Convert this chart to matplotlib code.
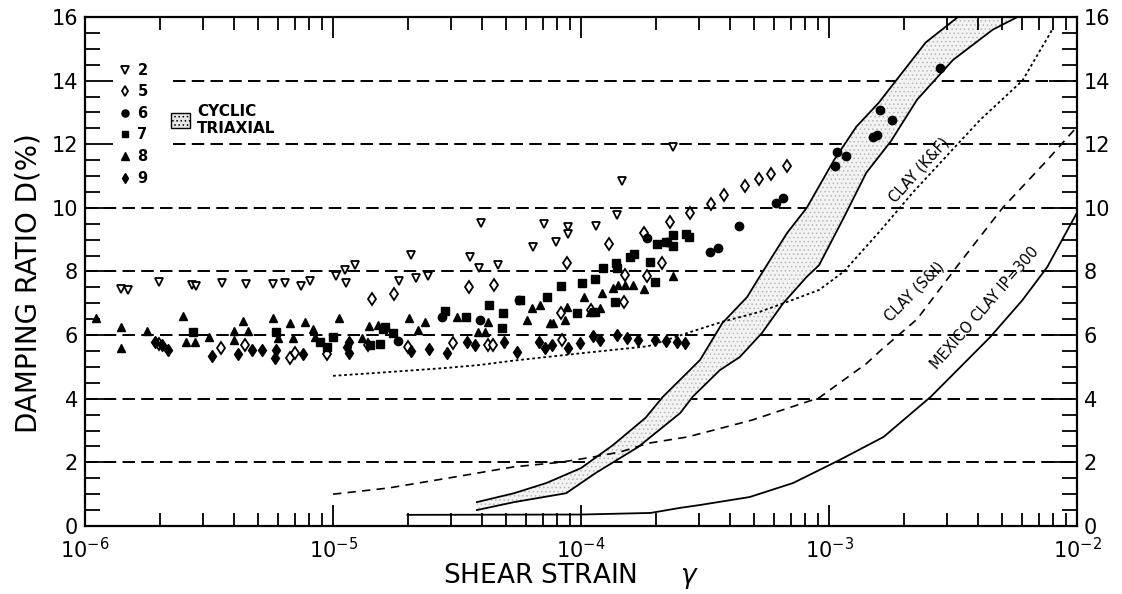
"""Damping ratio vs shear strain: test data, cyclic triaxial band and clay curves."""

import numpy as np
import matplotlib
matplotlib.use("Agg")
import matplotlib.pyplot as plt
import matplotlib.patches as mpatches
from matplotlib.ticker import FixedLocator, MultipleLocator, NullFormatter, LogLocator

plt.rcParams["font.family"] = ["DejaVu Sans"]
plt.rcParams["lines.scale_dashes"] = False
plt.rcParams["hatch.linewidth"] = 0.6

# ── data (strain given as log10) ───────────────────────────────────
s2_log = [-5.855, -5.827, -5.702, -5.569, -5.552, -5.448, -5.351, -5.242, -5.194, -5.129,
          -5.093, -4.988, -4.952, -4.948, -4.911, -4.734, -4.685, -4.665, -4.617, -4.448,
          -4.403, -4.411, -4.335, -4.194, -4.149, -4.101, -4.052, -4.052, -3.940, -3.855,
          -3.835, -3.629]
s2_D = [7.45, 7.42, 7.67, 7.58, 7.55, 7.64, 7.61, 7.61, 7.64, 7.55,
        7.70, 7.86, 8.05, 7.64, 8.20, 7.70, 8.52, 7.80, 7.86, 8.46,
        9.53, 8.11, 8.20, 8.77, 9.50, 8.93, 9.40, 9.18, 9.43, 9.78,
        10.85, 11.90]

s5_log = [-5.700, -5.450, -5.355, -5.173, -5.153, -5.024, -4.859, -4.843, -4.754, -4.452,
          -4.350, -4.698, -4.516, -4.375, -4.355, -4.056, -3.887, -3.746, -3.641, -3.560,
          -3.673, -3.823, -3.734, -3.827, -3.960, -4.080, -4.077, -3.476, -3.423, -3.339,
          -3.282, -3.234, -3.169]
s5_D = [5.72, 5.60, 5.69, 5.28, 5.44, 5.41, 5.69, 7.14, 7.30, 7.52,
        7.58, 5.63, 5.75, 5.69, 5.69, 8.27, 8.87, 9.21, 9.56, 9.84,
        8.27, 7.89, 7.86, 7.04, 6.79, 6.70, 5.85, 10.13, 10.41, 10.69,
        10.91, 11.07, 11.32]

s6_log = [-3.480, -3.448, -3.363, -3.214, -3.185, -2.968, -2.931, -2.976, -2.823, -2.806,
          -2.794, -2.746, -2.552, -4.560, -4.407, -4.250, -3.734, -3.653, -4.740]
s6_D = [8.62, 8.74, 9.43, 10.16, 10.31, 11.76, 11.64, 11.32, 12.23, 12.30,
        13.08, 12.77, 14.40, 6.57, 6.48, 7.11, 9.06, 8.93, 5.80]

s7_log = [-3.577, -3.565, -3.629, -3.657, -3.694, -3.629, -3.722, -3.786, -3.802, -3.859,
          -3.855, -3.911, -3.944, -3.996, -4.081, -3.702, -3.863, -3.944, -4.016, -4.137,
          -4.246, -4.315, -4.371, -4.464, -4.548, -4.790, -4.319, -4.810, -5.024, -5.565,
          -5.230, -5.052, -5.000, -4.798, -4.850, -4.758]
s7_D = [9.18, 9.09, 9.15, 8.93, 8.87, 8.80, 8.30, 8.55, 8.46, 8.27,
        8.11, 8.11, 7.77, 7.64, 7.55, 7.67, 7.04, 6.73, 6.70, 7.20,
        7.11, 6.70, 6.95, 6.57, 6.76, 6.26, 6.23, 5.72, 5.63, 6.10,
        6.10, 5.79, 5.94, 6.20, 5.69, 6.07]

s8_log = [-5.956, -5.855, -5.855, -5.750, -5.605, -5.593, -5.556, -5.500, -5.399, -5.363,
          -5.343, -5.399, -5.242, -5.173, -5.113, -5.081, -5.161, -4.976, -4.883, -4.855,
          -5.073, -5.222, -4.694, -4.819, -4.500, -4.375, -4.415, -4.387, -4.657, -4.629,
          -4.165, -4.198, -4.056, -3.871, -3.790, -3.746, -3.915, -3.629, -3.988, -4.065,
          -4.125, -4.218, -3.851, -3.823, -3.964, -3.923, -4.113]
s8_D = [6.54, 6.26, 5.60, 6.13, 6.60, 5.79, 5.79, 5.94, 6.13, 6.45,
        6.13, 5.85, 6.54, 6.38, 6.42, 6.20, 5.91, 6.54, 5.91, 6.29,
        5.94, 5.91, 6.54, 6.32, 6.57, 6.42, 6.10, 6.10, 6.16, 6.42,
        6.95, 6.86, 6.89, 7.48, 7.58, 7.45, 7.33, 7.86, 7.20, 6.48,
        6.38, 6.48, 7.58, 7.58, 6.73, 6.86, 6.38]

s9_log = [-5.718, -5.690, -5.665, -5.488, -5.383, -5.327, -5.286, -5.234, -5.230, -5.121,
          -4.935, -4.944, -4.935, -4.685, -4.613, -4.540, -4.460, -4.427, -4.310, -4.258,
          -4.145, -4.117, -4.052, -4.004, -3.952, -3.923, -3.815, -3.770, -3.702, -3.657,
          -3.613, -4.169, -3.855, -3.580]
s9_D = [5.79, 5.69, 5.53, 5.35, 5.41, 5.53, 5.53, 5.28, 5.53, 5.41,
        5.44, 5.63, 5.79, 5.50, 5.57, 5.44, 5.79, 5.69, 5.79, 5.47,
        5.60, 5.69, 5.60, 5.75, 5.97, 5.85, 5.91, 5.85, 5.85, 5.82,
        5.79, 5.79, 6.00, 5.75]

# cyclic triaxial band boundaries
band_up_log = [-4.42, -4.27, -4.14, -4.00, -3.87, -3.74, -3.67, -3.60, -3.52, -3.43,
               -3.33, -3.27, -3.17, -3.09, -2.98, -2.89, -2.80, -2.73, -2.61, -2.48]
band_up_D = [0.75, 1.03, 1.35, 1.82, 2.55, 3.40, 4.06, 4.60, 5.22, 6.38,
             7.20, 7.96, 9.20, 10.00, 11.50, 12.55, 13.30, 14.00, 15.20, 16.00]
band_lo_log = [-4.42, -4.27, -4.06, -3.94, -3.77, -3.60, -3.55, -3.44, -3.36, -3.27,
               -3.185, -3.09, -3.04, -2.94, -2.85, -2.75, -2.645, -2.50, -2.34, -2.24]
band_lo_D = [0.50, 0.75, 1.03, 1.67, 2.48, 3.55, 4.06, 4.90, 5.31, 6.07,
             7.00, 7.83, 8.20, 9.70, 11.10, 12.10, 13.40, 14.65, 15.60, 16.00]

kf_log = [-5.00, -4.81, -4.54, -4.41, -4.27, -4.00, -3.73, -3.57, -3.43, -3.28,
          -3.17, -3.04, -2.94, -2.79, -2.66, -2.47, -2.39, -2.22, -2.10]
kf_D = [4.72, 4.82, 4.97, 5.06, 5.20, 5.43, 5.65, 6.07, 6.42, 6.73,
        7.04, 7.42, 8.00, 9.31, 10.50, 12.10, 12.77, 14.00, 15.60]

si_log = [-5.00, -4.78, -4.54, -4.27, -4.085, -3.95, -3.84, -3.73, -3.57, -3.31,
          -3.04, -2.85, -2.79, -2.645, -2.48, -2.30, -2.12, -2.00]
si_D = [1.00, 1.19, 1.50, 1.86, 2.00, 2.17, 2.33, 2.60, 2.80, 3.33,
        4.03, 5.10, 5.53, 6.50, 8.20, 10.00, 11.50, 12.55]

mx_log = [-4.70, -4.00, -3.72, -3.60, -3.52, -3.32, -3.145, -2.956, -2.78, -2.59,
          -2.35, -2.22, -2.12, -2.00]
mx_D = [0.35, 0.36, 0.41, 0.57, 0.66, 0.91, 1.35, 2.08, 2.80, 4.06,
        5.94, 7.10, 8.14, 9.85]

grid_levels = [2, 4, 6, 8, 10, 12, 14]
short_grid_levels = [12, 14]  # these start right of the legend


def strain(logs):
    return 10.0 ** np.asarray(logs)


fig = plt.figure(figsize=(11.22, 5.94), dpi=100)
ax = fig.add_axes([0.0758, 0.1145, 0.8841, 0.8569])
ax.set_xscale("log")
ax.set_xlim(1e-6, 1e-2)
ax.set_ylim(0, 16)

# horizontal dashed reference lines
for lev in grid_levels:
    xmin = 0.089 if lev in short_grid_levels else 0.0
    ax.axhline(lev, xmin=xmin, color="black", lw=1.4,
               dashes=(9, 4.5), zorder=1)

# cyclic triaxial band
poly_x = np.concatenate([strain(band_up_log), strain(band_lo_log)[::-1]])
poly_y = np.concatenate([band_up_D, band_lo_D[::-1]])
ax.fill(poly_x, poly_y, facecolor="#f3f3f3", edgecolor="#b8b8b8",
        hatch="....", linewidth=0, zorder=1.5)
ax.plot(strain(band_up_log), band_up_D, color="black", lw=1.3, zorder=3)
ax.plot(strain(band_lo_log), band_lo_D, color="black", lw=1.3, zorder=3)

# clay curves
ax.plot(strain(kf_log), kf_D, color="black", lw=1.3, dashes=(2, 2), zorder=3)
ax.plot(strain(si_log), si_D, color="black", lw=1.2, dashes=(6, 4.5), zorder=3)
ax.plot(strain(mx_log), mx_D, color="black", lw=1.3, zorder=3)

lab_kw = dict(ha="center", va="center", fontsize=10.5, rotation_mode="anchor")
ax.text(10 ** -2.635, 11.2, "CLAY (K&F)", rotation=48, **lab_kw)
ax.text(10 ** -2.655, 7.35, "CLAY (S&I)", rotation=45, **lab_kw)
ax.text(10 ** -2.37, 6.85, "MEXICO CLAY IP=300", rotation=49, **lab_kw)

# test data
ms = 6
h2, = ax.plot(strain(s2_log), s2_D, "v", ms=ms, mfc="white", mec="black", mew=1.3,
              ls="none", zorder=4)
h5, = ax.plot(strain(s5_log), s5_D, "d", ms=ms + 0.5, mfc="white", mec="black", mew=1.3,
              ls="none", zorder=4)
h6, = ax.plot(strain(s6_log), s6_D, "o", ms=ms, color="black", ls="none", zorder=4)
h7, = ax.plot(strain(s7_log), s7_D, "s", ms=ms - 0.5, color="black", ls="none", zorder=4)
h8, = ax.plot(strain(s8_log), s8_D, "^", ms=ms, color="black", ls="none", zorder=4)
h9, = ax.plot(strain(s9_log), s9_D, "d", ms=ms + 0.5, color="black", ls="none", zorder=4)

leg1 = ax.legend([h2, h5, h6, h7, h8, h9], ["2", "5", "6", "7", "8", "9"],
                 loc="upper left", bbox_to_anchor=(0.033, 0.91), frameon=False,
                 handlelength=1.0, handletextpad=0.35, labelspacing=0.45,
                 borderpad=0, borderaxespad=0, markerscale=0.85,
                 prop=dict(size=10.5, weight="bold"))
ax.add_artist(leg1)

band_patch = mpatches.Patch(facecolor="#e6e6e6", edgecolor="black", hatch="....",
                            linewidth=1.0)
ax.legend([band_patch], ["CYCLIC\nTRIAXIAL"], loc="upper left",
          bbox_to_anchor=(0.087, 0.83), frameon=False, handlelength=1.2,
          handleheight=1.2, handletextpad=0.5, borderpad=0, borderaxespad=0,
          prop=dict(size=11, weight="bold"))

# axes styling
for sp in ax.spines.values():
    sp.set_linewidth(1.6)

ax.xaxis.set_major_locator(FixedLocator([1e-6, 1e-5, 1e-4, 1e-3, 1e-2]))
ax.xaxis.set_minor_locator(LogLocator(base=10, subs=np.arange(2, 10)))
ax.xaxis.set_minor_formatter(NullFormatter())
ax.set_xticklabels([r"$\mathregular{10^{-6}}$", r"$\mathregular{10^{-5}}$",
                    r"$\mathregular{10^{-4}}$", r"$\mathregular{10^{-3}}$",
                    r"$\mathregular{10^{-2}}$"])
ax.yaxis.set_major_locator(MultipleLocator(2))
ax.yaxis.set_minor_locator(MultipleLocator(0.5))

ax.tick_params(axis="x", which="both", direction="in", top=True, bottom=True,
               labelsize=15, pad=8, width=1.3)
ax.tick_params(axis="x", which="major", length=15)
ax.tick_params(axis="x", which="minor", length=9.5)
ax.tick_params(axis="y", which="both", direction="in", left=True, right=True,
               labelleft=True, labelright=True, labelsize=15, width=1.3)
ax.tick_params(axis="y", which="major", length=20, pad=5)
ax.tick_params(axis="y", which="minor", length=10.5)

ax.set_xlabel(r"SHEAR STRAIN  $\quad\gamma$", fontsize=19)
ax.xaxis.set_label_coords(0.49, -0.068)
ax.set_ylabel("DAMPING RATIO D(%)", fontsize=20)
ax.yaxis.set_label_coords(-0.043, 0.478)

fig.savefig("out.png", dpi=100)
